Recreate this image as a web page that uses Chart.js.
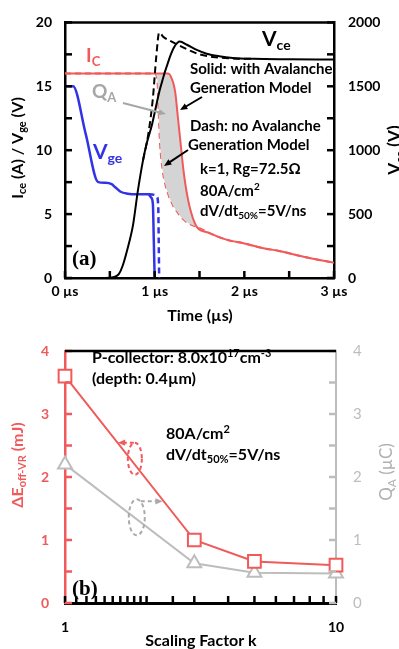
<!DOCTYPE html>
<html>
<head>
<meta charset="utf-8">
<script src="https://cdn.jsdelivr.net/npm/chart.js@4"></script>
<style>
    html, body { margin: 0; padding: 0; background: #fff; }
    #wrapA { position: absolute; left: 0; top: 0; width: 399px; height: 325px; }
    #wrapB { position: absolute; left: 0; top: 325px; width: 399px; height: 324px; }
</style>
</head>
<body>
<div id="wrapA"><canvas id="chartA"></canvas></div>
<div id="wrapB"><canvas id="chartB"></canvas></div>
<script>
// ---- panel (a): switching waveforms ----
const timeTickLabels = ['0 µs', '1 µs', '2 µs', '3 µs'];
const leftTickLabels = [0, 5, 10, 15, 20];
const rightTickLabels = [0, 500, 1000, 1500, 2000];

const vceTime  = [0, 0.45, 0.55, 0.6, 0.64, 0.69, 0.76, 0.81, 0.87, 0.91, 0.97, 1.06, 1.17, 1.22, 1.28, 1.36, 1.47, 1.58, 1.72, 1.87, 2.1, 2.5, 3.0];
const vceSolid = [0, 0, 8, 30, 90, 210, 420, 670, 920, 1050, 1200, 1480, 1730, 1810, 1850, 1825, 1785, 1755, 1735, 1722, 1715, 1712, 1710];
const vceDashTime = [0.87, 0.93, 0.98, 1.02, 1.05, 1.1, 1.16, 1.26, 1.36, 1.5, 1.65, 1.87, 2.1];
const vceDash     = [920, 1130, 1406, 1750, 1920, 1885, 1860, 1825, 1790, 1750, 1730, 1718, 1715];

const vgeTime  = [0, 0.09, 0.23, 0.37, 0.45, 0.52, 0.56, 0.62, 0.7, 0.8, 0.93, 0.96, 0.98, 0.99, 1.0];
const vgeSolid = [15, 15, 11.3, 7.5, 7.45, 7.35, 7.1, 6.75, 6.6, 6.55, 6.55, 6.3, 5.8, 3, 0];
const vgeDashTime = [0.93, 1.0, 1.025, 1.04, 1.045, 1.05];
const vgeDash     = [6.55, 6.5, 6.35, 5.6, 3, 0];

const icTime  = [0, 1.0, 1.03, 1.05, 1.06, 1.09, 1.12, 1.15, 1.17, 1.19, 1.21, 1.23, 1.26, 1.29, 1.32, 1.35, 1.4, 1.47, 1.6, 1.8, 2.0, 2.2, 2.4, 2.7, 3.0];
const icSolid = [16, 16, 16, 16, 16, 16, 16, 16, 15.9, 15.6, 15.2, 14.5, 12.5, 10.5, 8.5, 7.0, 5.3, 4.0, 3.55, 3.0, 2.7, 2.35, 2.1, 1.6, 1.2];
const icDash  = [16, 16, 15.5, 12, 10.5, 8.4, 7.3, 6.6, 6.2, 5.9, 5.6, 5.4, 5.1, 4.8, 4.6, 4.4, 4.2, 4.0, 3.55, 3.0, 2.7, 2.35, 2.1, 1.6, 1.2];

// ---- panel (b): scaling factor ----
const scalingK = [1, 3, 5, 10];
const deltaEoff = [3.6, 1.0, 0.66, 0.6];   // mJ, left axis
const chargeQA  = [2.2, 0.63, 0.48, 0.47]; // µC, right axis
const kTickLabels = [1, 10];
const bTickLabels = [0, 1, 2, 3, 4];

const red = '#f05a5a';
const blue = '#3333e6';
const grey = '#bdbdbd';
const font = 'Lato';

const pts = (xs, ys) => xs.map((x, i) => ({x: x, y: ys[i]}));

function richText(ctx, parts, x, y, size, color, align = 'left', weight = 'bold', family = font) {
    const fontFor = k => `${weight} ${k ? Math.round(size * 0.68) : size}px ${family}`;
    let w = 0;
    parts.forEach(([t, k]) => { ctx.font = fontFor(k); w += ctx.measureText(t).width; });
    let cx = align === 'center' ? x - w / 2 : x;
    ctx.fillStyle = color;
    ctx.textBaseline = 'middle';
    ctx.textAlign = 'left';
    parts.forEach(([t, k]) => {
        ctx.font = fontFor(k);
        const dy = k === 'sub' ? size * 0.3 : (k === 'sup' ? -size * 0.28 : 0);
        ctx.fillText(t, cx, y + dy);
        cx += ctx.measureText(t).width;
    });
}

function rotatedText(ctx, parts, x, y, size, color, weight = 'bold') {
    ctx.save();
    ctx.translate(x, y);
    ctx.rotate(-Math.PI / 2);
    richText(ctx, parts, 0, 0, size, color, 'center', weight);
    ctx.restore();
}

function arrow(ctx, x1, y1, x2, y2, color, dash = []) {
    const ang = Math.atan2(y2 - y1, x2 - x1);
    const hl = 8;
    ctx.save();
    ctx.strokeStyle = color;
    ctx.fillStyle = color;
    ctx.lineWidth = 2;
    ctx.setLineDash(dash);
    ctx.beginPath();
    ctx.moveTo(x1, y1);
    ctx.lineTo(x2 - Math.cos(ang) * hl * 0.8, y2 - Math.sin(ang) * hl * 0.8);
    ctx.stroke();
    ctx.setLineDash([]);
    ctx.beginPath();
    ctx.moveTo(x2, y2);
    ctx.lineTo(x2 - hl * Math.cos(ang - 0.4), y2 - hl * Math.sin(ang - 0.4));
    ctx.lineTo(x2 - hl * Math.cos(ang + 0.4), y2 - hl * Math.sin(ang + 0.4));
    ctx.closePath();
    ctx.fill();
    ctx.restore();
}

// tick marks pointing into the plot, like the original, plus the top frame line
function drawInwardTicks(chart, colors) {
    const ctx = chart.ctx;
    const a = chart.chartArea;
    const len = 7;
    Object.keys(chart.scales).forEach(id => {
        const s = chart.scales[id];
        ctx.save();
        ctx.setLineDash([]);
        ctx.lineWidth = 2.5;
        ctx.strokeStyle = colors[id];
        s.ticks.forEach(t => {
            const p = s.getPixelForValue(t.value);
            ctx.beginPath();
            if (id === 'x') {
                ctx.moveTo(p, a.bottom);
                ctx.lineTo(p, a.bottom - len);
            } else if (s.position === 'left') {
                ctx.moveTo(a.left, p);
                ctx.lineTo(a.left + len, p);
            } else {
                ctx.moveTo(a.right, p);
                ctx.lineTo(a.right - len, p);
            }
            ctx.stroke();
        });
        ctx.restore();
    });
    ctx.save();
    ctx.strokeStyle = '#000';
    ctx.lineWidth = 2.5;
    ctx.beginPath();
    ctx.moveTo(a.left, a.top);
    ctx.lineTo(a.right, a.top);
    ctx.stroke();
    ctx.restore();
}

const tickFont = {family: font, size: 14, weight: 'bold'};
const noGrid = {display: true, drawOnChartArea: false, drawTicks: false};

new Chart(document.getElementById('chartA'), {
    type: 'line',
    data: {
        datasets: [
            {label: 'Vce solid', data: pts(vceTime, vceSolid), yAxisID: 'yV', borderColor: '#000', borderWidth: 2},
            {label: 'Vce dash', data: pts(vceDashTime, vceDash), yAxisID: 'yV', borderColor: '#000', borderWidth: 2, borderDash: [7, 4]},
            {label: 'Vge solid', data: pts(vgeTime, vgeSolid), yAxisID: 'y', borderColor: blue, borderWidth: 2.5},
            {label: 'Vge dash', data: pts(vgeDashTime, vgeDash), yAxisID: 'y', borderColor: blue, borderWidth: 2.5, borderDash: [6, 4]},
            {label: 'Ic solid', data: pts(icTime, icSolid), yAxisID: 'y', borderColor: red, borderWidth: 2,
                fill: '+1', backgroundColor: '#d4d4d4'},
            {label: 'Ic dash', data: pts(icTime, icDash), yAxisID: 'y', borderColor: red, borderWidth: 2, borderDash: [6, 4]},
        ]
    },
    options: {
        animation: false,
        responsive: true,
        maintainAspectRatio: false,
        layout: {padding: {top: 15, left: 0, right: 0, bottom: 0}},
        elements: {point: {radius: 0}, line: {cubicInterpolationMode: 'monotone'}},
        plugins: {legend: {display: false}, tooltip: {enabled: false}},
        scales: {
            x: {
                type: 'linear', min: 0, max: 3,
                border: {color: '#000', width: 2.5},
                grid: noGrid,
                ticks: {
                    stepSize: 0.5, autoSkip: false, maxRotation: 0, padding: 5, color: '#000', font: tickFont,
                    callback: v => Number.isInteger(v) ? timeTickLabels[v] : ''
                },
                afterFit: s => { s.height = 47; }
            },
            y: {
                position: 'left', min: 0, max: 20,
                border: {color: '#000', width: 2.5},
                grid: noGrid,
                ticks: {
                    stepSize: 2.5, autoSkip: false, padding: 13, color: '#000', font: tickFont,
                    callback: v => leftTickLabels.includes(v) ? v : ''
                },
                afterFit: s => { s.width = 65; }
            },
            yV: {
                position: 'right', min: 0, max: 2000,
                border: {color: '#000', width: 2.5},
                grid: noGrid,
                ticks: {
                    stepSize: 250, autoSkip: false, padding: 14, color: '#000', font: tickFont,
                    callback: v => rightTickLabels.includes(v) ? v : ''
                },
                afterFit: s => { s.width = 65; }
            }
        }
    },
    plugins: [{
        id: 'notesA',
        afterDraw(chart) {
            const ctx = chart.ctx;
            drawInwardTicks(chart, {x: '#000', y: '#000', yV: '#000'});
            richText(ctx, [['I'], ['C', 'sub']], 86, 56, 19, red);
            richText(ctx, [['Q'], ['A', 'sub']], 92, 92, 19, '#a6a6a6');
            richText(ctx, [['V'], ['ge', 'sub']], 93, 152, 21, blue);
            richText(ctx, [['V'], ['ce', 'sub']], 262, 39, 21, '#000');
            richText(ctx, [['Solid: with Avalanche']], 190, 69, 15, '#000');
            richText(ctx, [['Generation Model']], 190, 88, 15, '#000');
            richText(ctx, [['Dash: no Avalanche']], 190, 126, 15, '#000');
            richText(ctx, [['Generation Model']], 188, 145, 15, '#000');
            richText(ctx, [['k=1, Rg=72.5Ω']], 200, 169, 15, '#000');
            richText(ctx, [['80A/cm'], ['2', 'sup']], 200, 191, 15, '#000');
            richText(ctx, [['dV/dt'], ['50%', 'sub'], ['=5V/ns']], 200, 211, 15, '#000');
            richText(ctx, [['(a)']], 72, 260, 21, '#000', 'left', 'bold', 'Liberation Serif');
            arrow(ctx, 123, 103, 166, 114, '#a6a6a6');
            arrow(ctx, 202, 97, 180, 110, '#000');
            arrow(ctx, 188, 150, 164, 166, '#000');
            richText(ctx, [['Time (µs)']], 200, 316, 16, '#000', 'center');
            rotatedText(ctx, [['I'], ['ce', 'sub'], [' (A) / V'], ['ge', 'sub'], [' (V)']], 18, 148, 16, '#000');
            rotatedText(ctx, [['V'], ['ce', 'sub'], [' (V)']], 395, 150, 17, '#000');
        }
    }]
});

new Chart(document.getElementById('chartB'), {
    type: 'line',
    data: {
        datasets: [
            {label: 'dEoff', data: pts(scalingK, deltaEoff), yAxisID: 'y', borderColor: red, borderWidth: 2,
                pointStyle: 'rect', pointRadius: 9, pointBorderWidth: 2, pointBorderColor: red,
                pointBackgroundColor: '#fff', clip: false},
            {label: 'QA', data: pts(scalingK, chargeQA), yAxisID: 'yQ', borderColor: grey, borderWidth: 2,
                pointStyle: 'triangle', pointRadius: 8, pointBorderWidth: 2, pointBorderColor: grey,
                pointBackgroundColor: '#fff', clip: false},
        ]
    },
    options: {
        animation: false,
        responsive: true,
        maintainAspectRatio: false,
        layout: {padding: {top: 14, left: 0, right: 0, bottom: 0}},
        plugins: {legend: {display: false}, tooltip: {enabled: false}},
        scales: {
            x: {
                type: 'logarithmic', min: 1, max: 10,
                border: {color: '#000', width: 3},
                grid: noGrid,
                ticks: {
                    autoSkip: false, maxRotation: 0, padding: 16, color: '#000', font: tickFont,
                    callback: v => kTickLabels.includes(v) ? String(v) : ''
                },
                afterFit: s => { s.height = 46; }
            },
            y: {
                position: 'left', min: 0, max: 4,
                border: {color: red, width: 2.5},
                grid: noGrid,
                ticks: {
                    stepSize: 0.5, autoSkip: false, padding: 16, color: red, font: tickFont,
                    callback: v => bTickLabels.includes(v) ? v : ''
                },
                afterFit: s => { s.width = 65; }
            },
            yQ: {
                position: 'right', min: 0, max: 4,
                border: {color: grey, width: 2},
                grid: noGrid,
                ticks: {
                    stepSize: 0.5, autoSkip: false, padding: 17, color: grey,
                    font: {family: font, size: 15, weight: 'normal'},
                    callback: v => bTickLabels.includes(v) ? v : ''
                },
                afterFit: s => { s.width = 63; }
            }
        }
    },
    plugins: [{
        id: 'notesB',
        afterDraw(chart) {
            const ctx = chart.ctx;
            const sx = chart.scales.x, sy = chart.scales.y, sq = chart.scales.yQ;
            drawInwardTicks(chart, {x: '#000', y: red, yQ: grey});
            richText(ctx, [['P-collector: 8.0x10'], ['17', 'sup'], ['cm'], ['-3', 'sup']], 92, 33, 16, '#000');
            richText(ctx, [['(depth: 0.4µm)']], 92, 54, 16, '#000');
            richText(ctx, [['80A/cm'], ['2', 'sup']], 166, 109, 16, '#000');
            richText(ctx, [['dV/dt'], ['50%', 'sub'], ['=5V/ns']], 166, 130, 16, '#000');
            richText(ctx, [['(b)']], 72, 265, 21, '#000', 'left', 'bold', 'Liberation Serif');

            // dashed ellipses with arrows pointing to each axis
            const ex = sx.getPixelForValue(1.81), ey = sy.getPixelForValue(2.29);
            ctx.save();
            ctx.strokeStyle = red; ctx.lineWidth = 2; ctx.setLineDash([4, 3]);
            ctx.beginPath(); ctx.ellipse(ex, ey, 7, 16, 0, 0, Math.PI * 2); ctx.stroke();
            ctx.restore();
            arrow(ctx, ex - 1, ey - 16, ex - 17, ey - 16, red, [4, 3]);

            const gx = sx.getPixelForValue(1.84), gy = sq.getPixelForValue(1.36);
            ctx.save();
            ctx.strokeStyle = '#aaaaaa'; ctx.lineWidth = 2; ctx.setLineDash([4, 3]);
            ctx.beginPath(); ctx.ellipse(gx, gy, 8, 18, 0, 0, Math.PI * 2); ctx.stroke();
            ctx.restore();
            arrow(ctx, gx + 4, gy - 16, gx + 26, gy - 16, '#aaaaaa', [4, 3]);

            richText(ctx, [['Scaling Factor k']], 201, 316, 16, '#000', 'center');
            rotatedText(ctx, [['ΔE'], ['off-VR', 'sub'], [' (mJ)']], 18, 140, 16, red);
            rotatedText(ctx, [['Q'], ['A', 'sub'], [' (µC)']], 387, 147, 17, '#b0b0b0', 'normal');
        }
    }]
});
</script>
</body>
</html>
